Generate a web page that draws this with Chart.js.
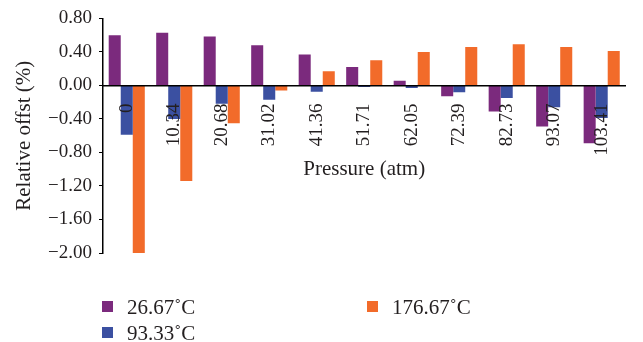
<!DOCTYPE html>
<html>
<head>
<meta charset="utf-8">
<script src="https://cdn.jsdelivr.net/npm/chart.js@4/dist/chart.umd.min.js"></script>
<style>
  html, body { margin: 0; padding: 0; background: #fff; }
  #wrap { position: relative; width: 643px; height: 342px; }
  #chart { position: absolute; left: 0; top: 0; }
  .leg { position: absolute; font-family: "Liberation Serif", "DejaVu Serif", serif; font-size: 21px; color: #231f20; line-height: 1; white-space: nowrap; }
  .leg .box { position: absolute; width: 11px; height: 11px; }
  .leg .txt { position: absolute; transform: translateY(-50%); }
</style>
</head>
<body>
<div id="wrap">
  <canvas id="chart" width="643" height="342"></canvas>
</div>
<script>
// Pressure steps (atm) along the x axis
const pressures = ['0', '10.34', '20.68', '31.02', '41.36', '51.71', '62.05', '72.39', '82.73', '93.07', '103.41'];

// Relative offset (%) for each temperature
const t2667 = [0.60, 0.63, 0.585, 0.48, 0.37, 0.22, 0.056, -0.13, -0.31, -0.49, -0.69];
const t9333 = [-0.59, -0.40, -0.22, -0.17, -0.075, -0.02, -0.03, -0.08, -0.15, -0.26, -0.39];
const t17667 = [-2.00, -1.14, -0.45, -0.06, 0.17, 0.30, 0.40, 0.46, 0.49, 0.46, 0.41];

const seriesLabels = ['26.67\u02DAC', '93.33\u02DAC', '176.67\u02DAC'];
const seriesColors = ['#7b2a7d', '#3b50a1', '#f26b2a'];

// y axis ticks
const yMin = -2.0, yMax = 0.8, yStep = 0.4;

const serif = '"Liberation Serif", "DejaVu Serif", serif';
const ink = '#231f20';

const fmt = v => {
  const s = Math.abs(v) < 1e-9 ? '0.00' : Math.abs(v).toFixed(2);
  return v < -1e-9 ? '\u2212' + s : s;
};

const chart = new Chart(document.getElementById('chart'), {
  type: 'bar',
  data: {
    labels: pressures,
    datasets: [t2667, t9333, t17667].map((d, i) => ({
      label: seriesLabels[i],
      data: d,
      backgroundColor: seriesColors[i],
      borderWidth: 0,
      categoryPercentage: 0.76,
      barPercentage: 1.0
    }))
  },
  options: {
    responsive: false,
    animation: false,
    layout: { padding: { left: 0, right: 11, top: 18, bottom: 89 } },
    plugins: { legend: { display: false }, tooltip: { enabled: false } },
    scales: {
      x: {
        position: { y: 0 },
        grid: { drawOnChartArea: false, drawTicks: false },
        border: { color: '#000', width: 1.5, z: 1 },
        ticks: {
          z: 1,
          autoSkip: false, minRotation: 90, maxRotation: 90, padding: 18,
          color: ink, font: { family: serif, size: 19 }
        },
        title: {
          display: true, text: 'Pressure (atm)', color: ink,
          font: { family: serif, size: 21 }, padding: { top: 0, bottom: 21 }
        }
      },
      y: {
        min: yMin, max: yMax,
        grid: { drawOnChartArea: false, drawTicks: true, tickLength: 4, color: '#000', lineWidth: 1 },
        border: { color: '#000', width: 1.5 },
        ticks: {
          stepSize: yStep, padding: 7, color: ink,
          font: { family: serif, size: 19 },
          callback: v => fmt(v)
        },
        title: {
          display: true, text: 'Relative offst (%)', color: ink,
          font: { family: serif, size: 21 }, padding: { top: 12, bottom: 4 }
        },
        afterFit: s => { s.width = 103; }
      }
    }
  }
});

// Two-column legend under the plot
const legendSlots = [
  { x: 102, y: 307 },
  { x: 102, y: 333 },
  { x: 367, y: 307 }
];
const wrap = document.getElementById('wrap');
chart.data.datasets.forEach((ds, i) => {
  const slot = legendSlots[i];
  const item = document.createElement('div');
  item.className = 'leg';
  item.style.left = slot.x + 'px';
  item.style.top = slot.y + 'px';
  const box = document.createElement('span');
  box.className = 'box';
  box.style.left = '0px';
  box.style.top = '-6px';
  box.style.background = ds.backgroundColor;
  const txt = document.createElement('span');
  txt.className = 'txt';
  txt.style.left = '25px';
  txt.textContent = ds.label;
  item.appendChild(box);
  item.appendChild(txt);
  wrap.appendChild(item);
});
</script>
</body>
</html>
